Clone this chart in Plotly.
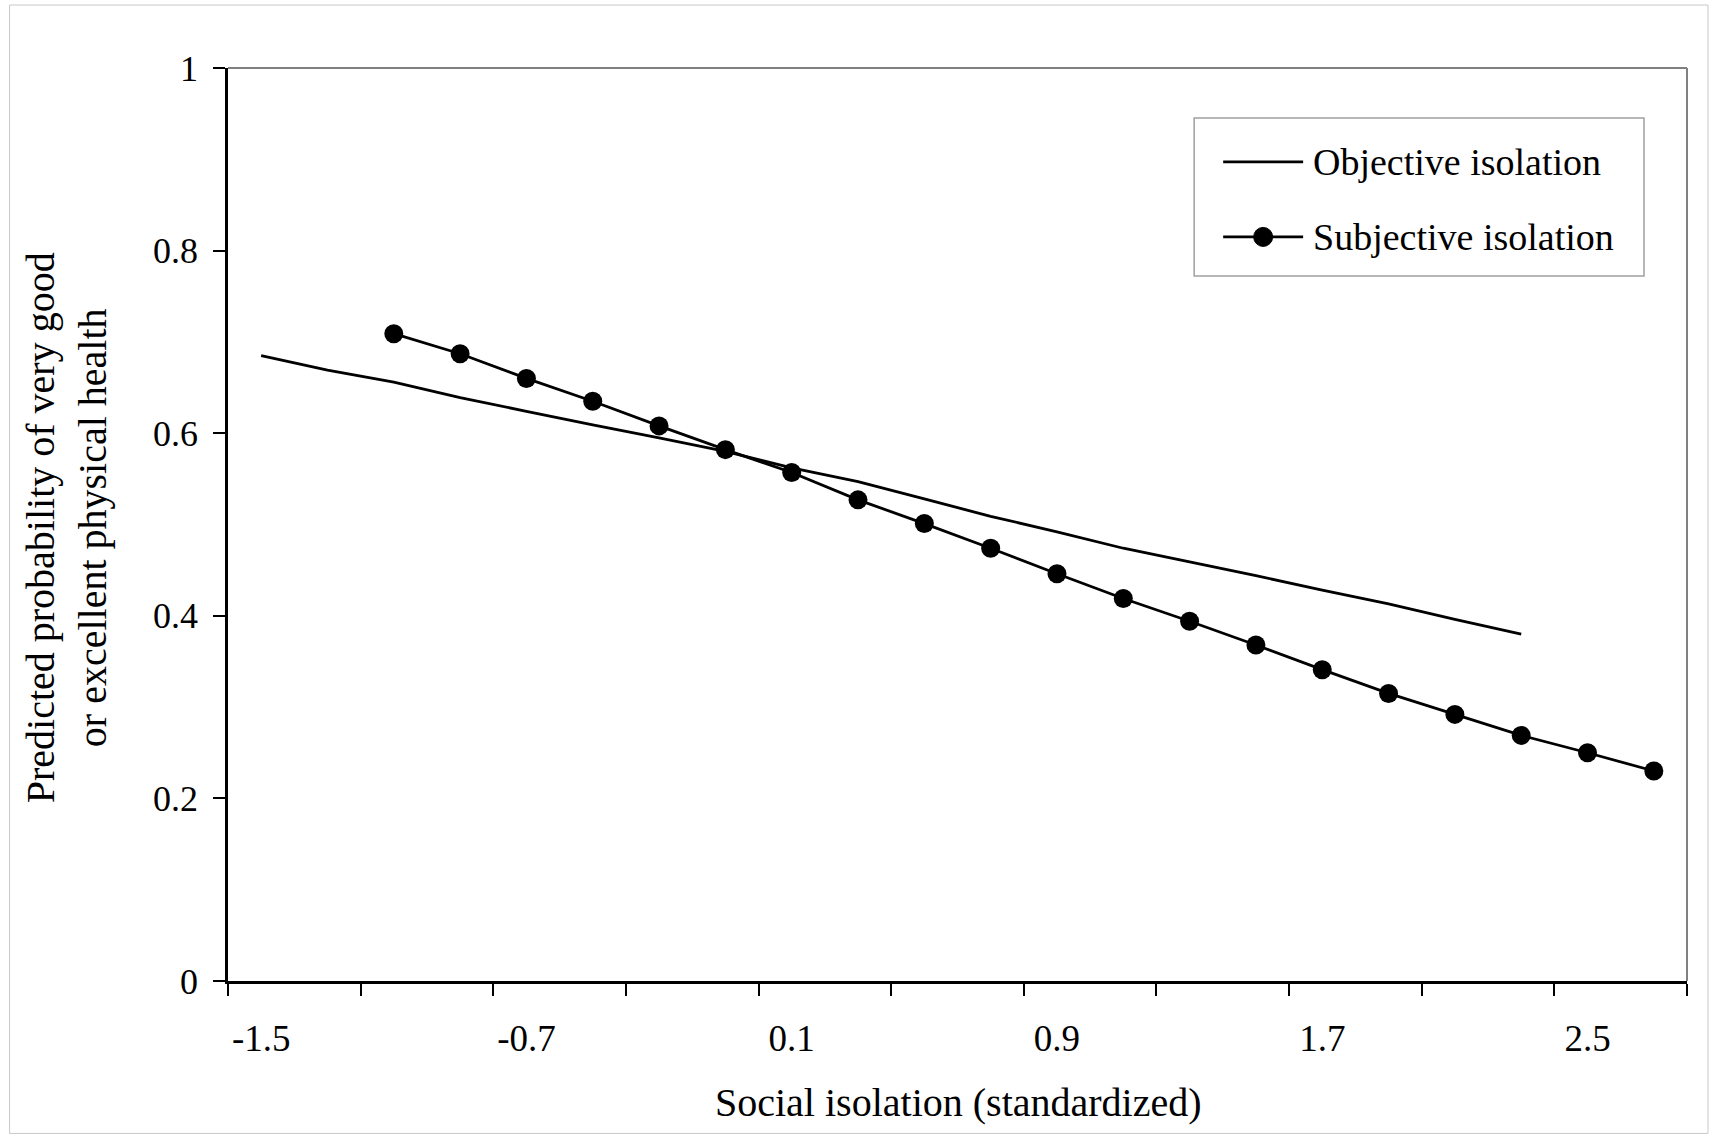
import plotly.graph_objects as go

# ---- data ----
x_objective = [-1.5, -1.3, -1.1, -0.9, -0.7, -0.5, -0.3, -0.1, 0.1, 0.3,
               0.5, 0.7, 0.9, 1.1, 1.3, 1.5, 1.7, 1.9, 2.1, 2.3]
y_objective = [0.685, 0.669, 0.656, 0.639, 0.624, 0.609, 0.595, 0.580, 0.562, 0.547,
               0.528, 0.509, 0.492, 0.474, 0.459, 0.444, 0.428, 0.413, 0.396, 0.380]

x_subjective = [-1.1, -0.9, -0.7, -0.5, -0.3, -0.1, 0.1, 0.3, 0.5, 0.7,
                0.9, 1.1, 1.3, 1.5, 1.7, 1.9, 2.1, 2.3, 2.5, 2.7]
y_subjective = [0.709, 0.687, 0.660, 0.635, 0.608, 0.582, 0.557, 0.527, 0.501, 0.474,
                0.446, 0.419, 0.394, 0.368, 0.341, 0.315, 0.292, 0.269, 0.250, 0.230]

x_tick_labels = ["-1.5", "-0.7", "0.1", "0.9", "1.7", "2.5"]
x_tick_vals = [-1.5, -0.7, 0.1, 0.9, 1.7, 2.5]
x_tick_marks = [-1.6, -1.2, -0.8, -0.4, 0.0, 0.4, 0.8, 1.2, 1.6, 2.0, 2.4, 2.8]
y_tick_vals = [0, 0.2, 0.4, 0.6, 0.8, 1.0]
y_tick_labels = ["0", "0.2", "0.4", "0.6", "0.8", "1"]

series_names = ["Objective isolation", "Subjective isolation"]
x_title = "Social isolation (standardized)"
y_title = "Predicted probability of very good<br>or excellent physical health"

# ---- layout geometry (pixels) ----
W, H = 1712, 1136
L, R, T, B = 227.5, 1687.0, 68.0, 981.5
PW, PH = R - L, B - T

def px(xp):
    return (xp - L) / PW

def py(yp):
    return (B - yp) / PH

FONT = "Liberation Serif, Times New Roman, serif"

fig = go.Figure()
fig.add_trace(go.Scatter(x=x_objective, y=y_objective, mode="lines",
                         name=series_names[0], line=dict(color="black", width=2.8),
                         showlegend=False))
fig.add_trace(go.Scatter(x=x_subjective, y=y_subjective, mode="lines+markers",
                         name=series_names[1], line=dict(color="black", width=2.8),
                         marker=dict(color="black", size=19, symbol="circle"),
                         showlegend=False))

fig.update_layout(
    width=W, height=H,
    margin=dict(l=L, r=W - R, t=T, b=H - B, pad=0),
    paper_bgcolor="white", plot_bgcolor="white",
    font=dict(family=FONT, color="black", size=36),
    showlegend=False,
)

fig.update_xaxes(
    range=[-1.6, 2.8], showgrid=False, zeroline=False,
    showline=True, linecolor="black", linewidth=2.5,
    tickmode="array", tickvals=x_tick_vals, ticktext=x_tick_labels,
    ticks="", ticklabelstandoff=23,
    tickfont=dict(family=FONT, size=37, color="black"),
    minor=dict(tickmode="array", tickvals=x_tick_marks, ticks="outside",
               ticklen=12, tickwidth=1.5, tickcolor="black", showgrid=False),
)
fig.update_yaxes(
    range=[0, 1], showgrid=False, zeroline=False,
    showline=True, linecolor="black", linewidth=2.5,
    tickmode="array", tickvals=y_tick_vals, ticktext=y_tick_labels,
    ticks="outside", ticklen=12, tickwidth=1.5, tickcolor="black",
    ticklabelstandoff=8,
    tickfont=dict(family=FONT, size=36, color="black"),
)

shapes = []
# plot area top/right border (gray)
shapes.append(dict(type="line", xref="paper", yref="paper", x0=0, x1=1, y0=1, y1=1,
                   line=dict(color="#808080", width=2)))
shapes.append(dict(type="line", xref="paper", yref="paper", x0=1, x1=1, y0=0, y1=1,
                   line=dict(color="#808080", width=2)))
# outer chart border
shapes.append(dict(type="rect", xref="paper", yref="paper",
                   x0=px(9), x1=px(1708), y0=py(1134), y1=py(5),
                   line=dict(color="#c8c8c8", width=1)))
# legend box
shapes.append(dict(type="rect", xref="paper", yref="paper",
                   x0=px(1194), x1=px(1644), y0=py(276), y1=py(118),
                   line=dict(color="#a0a0a0", width=1.5), fillcolor="white"))
# legend samples
shapes.append(dict(type="line", xref="paper", yref="paper",
                   x0=px(1223), x1=px(1303), y0=py(162), y1=py(162),
                   line=dict(color="black", width=2.8)))
shapes.append(dict(type="line", xref="paper", yref="paper",
                   x0=px(1223), x1=px(1303), y0=py(237), y1=py(237),
                   line=dict(color="black", width=2.8)))
shapes.append(dict(type="circle", xref="paper", yref="paper",
                   x0=px(1253.5), x1=px(1272.5), y0=py(246.5), y1=py(227.5),
                   line=dict(color="black", width=1), fillcolor="black"))

annotations = [
    dict(text=series_names[0], xref="paper", yref="paper", x=px(1311), y=py(162),
         xanchor="left", yanchor="middle", showarrow=False,
         font=dict(family=FONT, size=38, color="black")),
    dict(text=series_names[1], xref="paper", yref="paper", x=px(1311), y=py(237),
         xanchor="left", yanchor="middle", showarrow=False,
         font=dict(family=FONT, size=38, color="black")),
    dict(text=x_title, xref="paper", yref="paper", x=px(958), y=py(1103),
         xanchor="center", yanchor="middle", showarrow=False,
         font=dict(family=FONT, size=40, color="black")),
    dict(text=y_title, xref="paper", yref="paper", x=px(66), y=py(528),
         xanchor="center", yanchor="middle", showarrow=False, textangle=-90,
         font=dict(family=FONT, size=40, color="black")),
]
fig.update_layout(shapes=shapes, annotations=annotations)

fig.write_html("out.html",
               config={"displayModeBar": False},
               post_script="document.body.style.margin='0';document.body.style.overflow='hidden';")
